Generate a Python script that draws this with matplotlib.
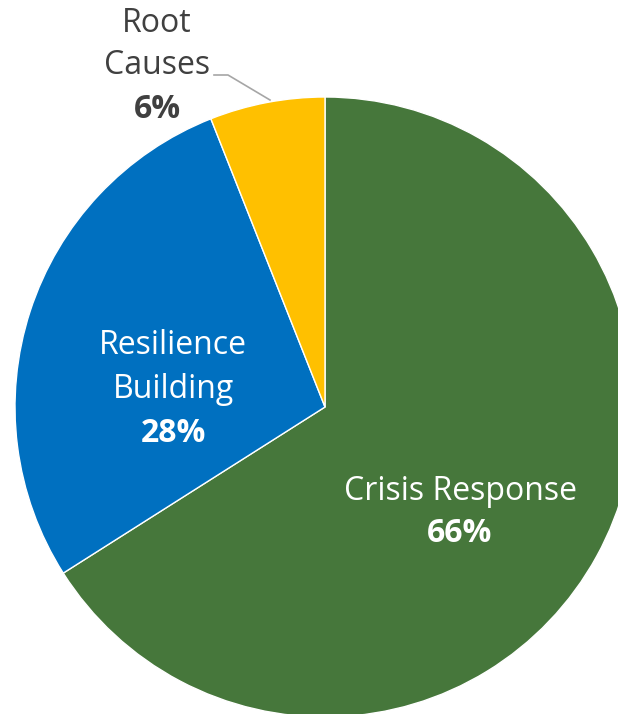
import matplotlib.pyplot as plt

plt.rcParams['font.family'] = ['Open Sans', 'DejaVu Sans']

# Data
categories = ["Crisis Response", "Resilience Building", "Root Causes"]
shares = [66, 28, 6]
colors = ["#46773b", "#0070c0", "#ffc000"]

fig = plt.figure(figsize=(6.18, 7.14), dpi=100)
ax = fig.add_axes([0, 0, 1, 1])

ax.pie(shares, colors=colors, startangle=90, counterclock=False,
       center=(325, 307), radius=310, frame=True,
       wedgeprops=dict(edgecolor='white', linewidth=1))
ax.set_xlim(0, 618)
ax.set_ylim(0, 714)
ax.set_aspect('equal')
ax.axis('off')

fs = 23
# Crisis Response
ax.text(460, 714 - 491, "Crisis Response", color='white', fontsize=fs, ha='center', va='center')
ax.text(460, 714 - 534, f"{shares[0]}%", color='white', fontsize=fs, fontweight='bold', ha='center', va='center')
# Resilience Building
ax.text(173, 714 - 346, "Resilience", color='white', fontsize=fs, ha='center', va='center')
ax.text(173, 714 - 390, "Building", color='white', fontsize=fs, ha='center', va='center')
ax.text(173, 714 - 434, f"{shares[1]}%", color='white', fontsize=fs, fontweight='bold', ha='center', va='center')
# Root Causes
ax.text(157, 714 - 23, "Root", color='#404040', fontsize=fs, ha='center', va='center')
ax.text(157, 714 - 66, "Causes", color='#404040', fontsize=fs, ha='center', va='center')
ax.text(157, 714 - 109, f"{shares[2]}%", color='#404040', fontsize=fs, fontweight='bold', ha='center', va='center')
ax.plot([214, 228, 270], [714 - 75, 714 - 75, 714 - 100], color='#a6a6a6', linewidth=1.2)

fig.savefig("out.png", dpi=100)
